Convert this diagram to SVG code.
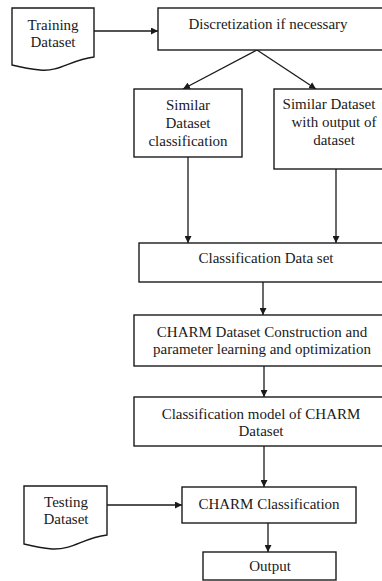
<svg xmlns="http://www.w3.org/2000/svg" width="382" height="581" viewBox="0 0 382 581">
  <style>
    .box { fill: #fff; stroke: #1a1a1a; stroke-width: 1.4; }
    .edge { fill: none; stroke: #1a1a1a; stroke-width: 1.3; }
    text { font-family: "Liberation Serif", "Times New Roman", serif; font-size: 15px; fill: #1a1a1a; text-anchor: middle; }
  </style>
  <defs>
    <marker id="arrow" viewBox="0 0 10 10" refX="10" refY="5" markerWidth="7" markerHeight="7" markerUnits="userSpaceOnUse" orient="auto">
      <path d="M0,0 L10,5 L0,10 Z" fill="#1a1a1a"/>
    </marker>
  </defs>
  <rect width="382" height="581" fill="#fff"/>

  <g id="connectors">
    <line class="edge" x1="94" y1="31" x2="158" y2="31" marker-end="url(#arrow)"/>
    <line class="edge" x1="257" y1="50" x2="183" y2="89" marker-end="url(#arrow)"/>
    <line class="edge" x1="257" y1="50" x2="316" y2="89" marker-end="url(#arrow)"/>
    <line class="edge" x1="188" y1="157" x2="188" y2="243" marker-end="url(#arrow)"/>
    <line class="edge" x1="336" y1="169" x2="336" y2="243" marker-end="url(#arrow)"/>
    <line class="edge" x1="263" y1="282" x2="263" y2="315" marker-end="url(#arrow)"/>
    <line class="edge" x1="264" y1="366" x2="264" y2="397" marker-end="url(#arrow)"/>
    <line class="edge" x1="264" y1="446" x2="264" y2="487" marker-end="url(#arrow)"/>
    <line class="edge" x1="107" y1="505" x2="182" y2="505" marker-end="url(#arrow)"/>
    <line class="edge" x1="268" y1="523" x2="268" y2="552" marker-end="url(#arrow)"/>
  </g>

  <g id="training-dataset">
    <path class="box" d="M12,8 H94 V57 C70,60 60,72 40,70 C28,69 20,67 12,65 Z"/>
    <text x="53" y="30">Training</text>
    <text x="53" y="47">Dataset</text>
  </g>

  <g id="discretization">
    <rect class="box" x="158" y="8" width="232" height="42"/>
    <text x="268" y="29">Discretization if necessary</text>
  </g>

  <g id="similar-classification">
    <rect class="box" x="134" y="89" width="108" height="68"/>
    <text x="188" y="110">Similar</text>
    <text x="188" y="128">Dataset</text>
    <text x="188" y="146">classification</text>
  </g>

  <g id="similar-output">
    <rect class="box" x="274" y="89" width="116" height="80"/>
    <text x="329" y="109">Similar Dataset</text>
    <text x="334" y="127">with output of</text>
    <text x="334" y="145">dataset</text>
  </g>

  <g id="classification-data-set">
    <rect class="box" x="139" y="243" width="251" height="39"/>
    <text x="266" y="263">Classification Data set</text>
  </g>

  <g id="charm-construction">
    <rect class="box" x="134" y="315" width="256" height="51"/>
    <text x="262" y="337">CHARM Dataset Construction and</text>
    <text x="262" y="354">parameter learning and optimization</text>
  </g>

  <g id="classification-model">
    <rect class="box" x="134" y="397" width="256" height="49"/>
    <text x="261" y="419">Classification model of CHARM</text>
    <text x="261" y="436">Dataset</text>
  </g>

  <g id="testing-dataset">
    <path class="box" d="M24,486 H107 V535 C83,538 73,550 52,549 C40,548 32,546 24,544 Z"/>
    <text x="66" y="507">Testing</text>
    <text x="66" y="524">Dataset</text>
  </g>

  <g id="charm-classification">
    <rect class="box" x="182" y="487" width="174" height="36"/>
    <text x="269" y="509">CHARM Classification</text>
  </g>

  <g id="output">
    <rect class="box" x="203" y="552" width="133" height="28"/>
    <text x="270" y="571">Output</text>
  </g>
</svg>
